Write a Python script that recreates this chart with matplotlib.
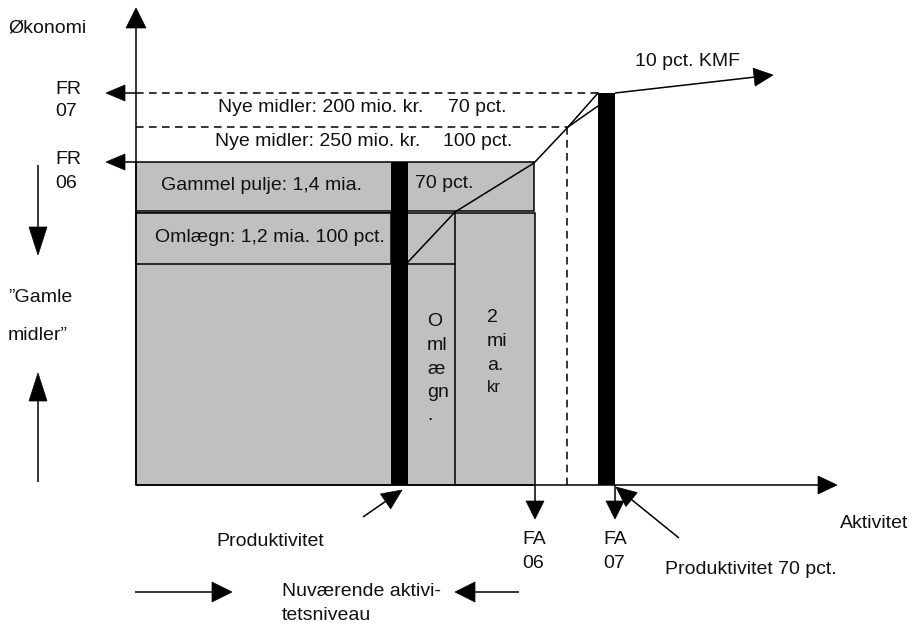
import matplotlib
matplotlib.use('Agg')
import matplotlib.pyplot as plt
from matplotlib.patches import Rectangle, Polygon
import numpy as np

plt.rcParams['font.family'] = ['Liberation Sans', 'DejaVu Sans']

# ---------------- diagram values (diagram units) ----------------
# activity (horizontal) levels
act_axis = 136
act_bar1 = [391, 408]          # productivity bar (current)
act_split = 455                # split between "Omlægn." and "2 mia. kr" columns
act_fa06 = 534
act_dash = 567
act_bar2 = [598, 615]          # productivity bar 70 pct.
act_end = 837

# economy (vertical) levels
eco_axis = 485
eco_top = 8
eco_fr07 = 93
eco_new = 127
eco_fr06 = 162
eco_pool_bottom = 211
eco_oml_top = 213
eco_oml_bottom = 264

# line of productivity
prod_line_x = [408, 455, 534, 568, 598]
prod_line_y = [262, 212, 163, 127, 93]
prod_line2_x = [568, 598]
prod_line2_y = [127, 106]

# labels
box_labels = ["Nye midler: 200 mio. kr.", "Nye midler: 250 mio. kr.",
              "Gammel pulje: 1,4 mia.", "Omlægn: 1,2 mia. 100 pct."]
pct_labels = ["70 pct.", "100 pct.", "70 pct."]
col1_lines = ["O", "ml", "æ", "gn", "."]
col2_lines = ["2", "mi", "a."]

GRAY = '#c0c0c0'
FS = 14

W, H = 911, 626
fig = plt.figure(figsize=(W / 100, H / 100), dpi=100)
ax = fig.add_axes([0, 0, 1, 1])
ax.set_xlim(0, W)
ax.set_ylim(H, 0)
ax.axis('off')


def arrow(x0, y0, x1, y1, hl=19, hw=9, lw=1.1):
    dx, dy = x1 - x0, y1 - y0
    L = np.hypot(dx, dy)
    ux, uy = dx / L, dy / L
    bx, by = x1 - ux * hl, y1 - uy * hl
    px, py = -uy, ux
    ax.plot([x0, bx], [y0, by], color='k', lw=lw, solid_capstyle='butt', zorder=5)
    ax.add_patch(Polygon([[x1, y1], [bx + px * hw, by + py * hw], [bx - px * hw, by - py * hw]],
                         closed=True, fc='k', ec='k', lw=0.5, zorder=5))


def txt(x, y, s, fs=FS, **kw):
    ax.text(x, y, s, fontsize=fs, ha='left', va='center', color='#111111', zorder=6, **kw)


# gray boxes
ax.add_patch(Rectangle((act_axis, eco_fr06), act_fa06 - act_axis, eco_pool_bottom - eco_fr06,
                       fc=GRAY, ec='k', lw=1.1, zorder=1))
ax.add_patch(Rectangle((act_axis, eco_oml_top), act_fa06 + 1 - act_axis, eco_axis - eco_oml_top,
                       fc=GRAY, ec='k', lw=1.1, zorder=1))
ax.add_patch(Rectangle((act_axis, eco_oml_top), act_bar1[0] - act_axis, eco_oml_bottom - eco_oml_top,
                       fc=GRAY, ec='k', lw=1.1, zorder=2))
ax.plot([act_bar1[1], act_split], [eco_oml_bottom, eco_oml_bottom], color='k', lw=1.1, zorder=2)
ax.plot([act_split, act_split], [eco_oml_top, eco_axis], color='k', lw=1.1, zorder=2)

# black bars
ax.add_patch(Rectangle((act_bar1[0], eco_fr06), act_bar1[1] - act_bar1[0], eco_axis - eco_fr06,
                       fc='k', ec='none', zorder=3))
ax.add_patch(Rectangle((act_bar2[0], eco_fr07), act_bar2[1] - act_bar2[0], eco_axis - eco_fr07,
                       fc='k', ec='none', zorder=3))

# dashed lines
ds = (0, (5, 3.5))
ax.plot([act_axis, act_bar2[0]], [eco_fr07, eco_fr07], color='k', lw=1.1, ls=ds, zorder=2)
ax.plot([act_axis, act_dash], [eco_new, eco_new], color='k', lw=1.1, ls=ds, zorder=2)
ax.plot([act_dash, act_dash], [eco_new, eco_axis], color='k', lw=1.1, ls=ds, zorder=2)

# productivity line
ax.plot(prod_line_x, prod_line_y, color='k', lw=1.1, zorder=4)
ax.plot(prod_line2_x, prod_line2_y, color='k', lw=1.1, zorder=4)

# axes
arrow(act_axis, eco_axis, act_axis, eco_top, hl=20, hw=10)
arrow(act_axis, eco_axis, act_end, eco_axis, hl=19, hw=9)

# FR arrows
arrow(act_axis, eco_fr07, 106, eco_fr07, hl=19, hw=8)
arrow(act_axis, eco_fr06, 106, eco_fr06, hl=19, hw=8)

# KMF arrow
arrow(act_bar2[1], eco_fr07, 773, 75, hl=19, hw=9)

# FA arrows
arrow(act_fa06 + 1, eco_axis, act_fa06 + 1, 519, hl=18, hw=9)
arrow(act_bar2[1], eco_axis, act_bar2[1], 519, hl=18, hw=9)

# productivity pointers
arrow(363, 517, 402, 490, hl=20, hw=9)
arrow(679, 538, 616, 487, hl=20, hw=9)

# left side arrows
arrow(38, 165, 38, 255, hl=28, hw=9)
arrow(38, 482, 38, 373, hl=28, hw=9)

# bottom arrows
arrow(135, 592, 232, 592, hl=20, hw=10)
arrow(519, 592, 455, 592, hl=20, hw=10)

# texts
txt(8, 28, "Økonomi")
txt(55, 90, "FR")
txt(55, 112, "07")
txt(55, 160, "FR")
txt(55, 183, "06")
txt(8, 297, "\u201dGamle")
txt(8, 336, "midler\u201d")

txt(218, 107, box_labels[0])
txt(448, 107, pct_labels[0])
txt(215, 142, box_labels[1])
txt(443, 142, pct_labels[1])
txt(161, 185, box_labels[2])
txt(415, 184, pct_labels[2])
txt(155, 238, box_labels[3])

for i, s in enumerate(col1_lines):
    txt(427, 322 + i * 23.5, s)
for i, s in enumerate(col2_lines):
    txt(487, 318 + i * 23.5, s)
txt(487, 388, "kr", fs=12)

txt(635, 62, "10 pct. KMF")
txt(216, 542, "Produktivitet")
txt(522, 540, "FA")
txt(522, 564, "06")
txt(603, 540, "FA")
txt(603, 564, "07")
txt(840, 523, "Aktivitet")
txt(665, 570, "Produktivitet 70 pct.")
txt(282, 592, "Nuværende aktivi-")
txt(282, 615, "tetsniveau")

fig.savefig('out.png', dpi=100)
